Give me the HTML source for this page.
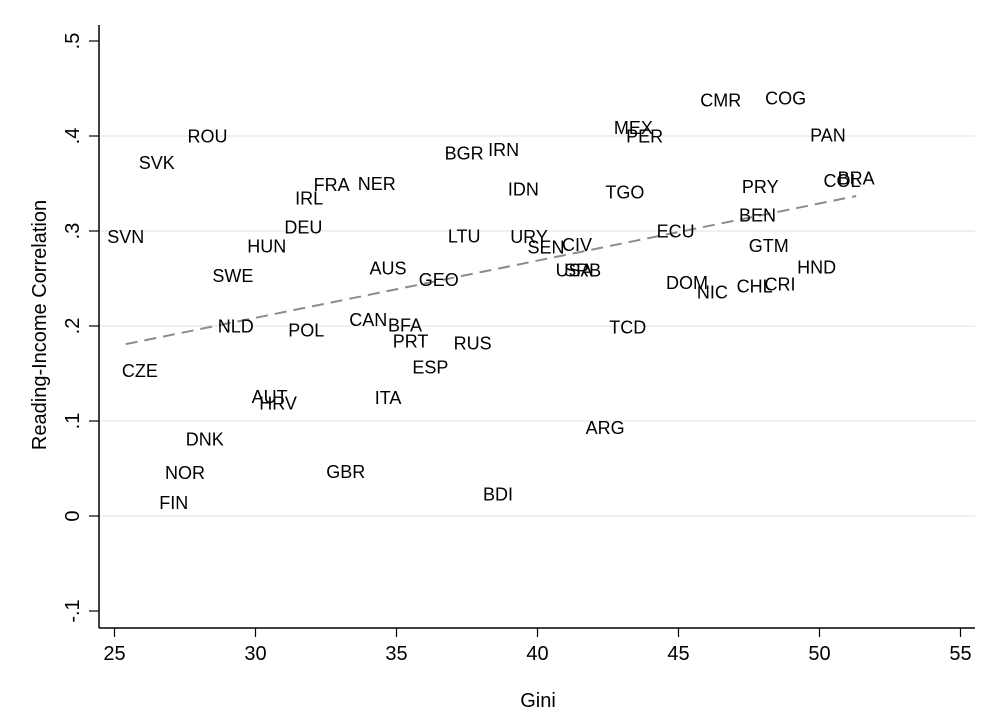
<!DOCTYPE html>
<html><head><meta charset="utf-8"><style>
html,body{margin:0;padding:0;background:#fff;}
svg{display:block;font-family:"Liberation Sans",Arial,sans-serif;}
</style></head><body>
<svg id="chart" width="1000" height="727" viewBox="0 0 1000 727" xmlns="http://www.w3.org/2000/svg">
<rect width="1000" height="727" fill="#fff"/>
<g id="grid"></g>
<g id="axes"></g>
<g id="fit"></g>
<g id="pts"></g>
<text x="538" y="707" font-size="20" text-anchor="middle" fill="#000">Gini</text>
<text transform="translate(46,325) rotate(-90)" font-size="20" text-anchor="middle" fill="#000">Reading-Income Correlation</text>
</svg>
<script>
const countries=["SVK","ROU","SVN","CZE","NOR","FIN","DNK","NLD","SWE","HUN","DEU","IRL","FRA","NER","POL","AUT","HRV","CAN","BFA","PRT","AUS","GEO","ITA","GBR","ESP","RUS","LTU","BGR","IRN","IDN","BDI","URY","SEN","CIV","USA","SRB","ARG","TCD","TGO","MEX","PER","CMR","COG","PAN","PRY","BEN","ECU","GTM","DOM","NIC","CHL","CRI","HND","COL","BRA"];
const gini=[26.5,28.3,25.4,25.9,27.5,27.1,28.2,29.3,29.2,30.4,31.7,31.9,32.7,34.3,31.8,30.5,30.8,34.0,35.3,35.5,34.7,36.5,34.7,33.2,36.2,37.7,37.4,37.4,38.8,39.5,38.6,39.7,40.3,41.4,41.3,41.6,42.4,43.2,43.1,43.4,43.8,46.5,48.8,50.3,47.9,47.8,44.9,48.2,45.3,46.2,47.7,48.6,49.9,50.8,51.3];
const corr=[0.372,0.400,0.294,0.153,0.046,0.014,0.081,0.200,0.253,0.284,0.304,0.335,0.349,0.350,0.196,0.126,0.119,0.207,0.201,0.184,0.261,0.249,0.125,0.047,0.157,0.182,0.295,0.382,0.386,0.344,0.023,0.294,0.283,0.286,0.259,0.259,0.093,0.199,0.341,0.409,0.400,0.438,0.440,0.401,0.347,0.317,0.300,0.285,0.246,0.236,0.242,0.244,0.262,0.353,0.356];
const xTicks=[25,30,35,40,45,50,55];
const yTicks=[-0.1,0,0.1,0.2,0.3,0.4,0.5];
const yTickLabels=["-.1","0",".1",".2",".3",".4",".5"];
const gridVals=[0,0.1,0.2,0.3,0.4];
const fitIntercept=0.028, fitSlope=0.00602;

const NS="http://www.w3.org/2000/svg";
const X=v=>114.5+(v-25)*28.2;
const Y=v=>516-v*950;
function mk(tag,attrs,parent,txt){const e=document.createElementNS(NS,tag);for(const k in attrs)e.setAttribute(k,attrs[k]);if(txt!==undefined)e.textContent=txt;parent.appendChild(e);return e;}
const grid=document.getElementById('grid'),axes=document.getElementById('axes'),fit=document.getElementById('fit'),pts=document.getElementById('pts');
gridVals.forEach(v=>{const l=mk('line',{x1:100,x2:975,y1:Y(v),y2:Y(v),stroke:'#e6eef0','stroke-width':1.5},grid);

});
let a=mk('line',{x1:99,x2:99,y1:25,y2:628,stroke:'#000','stroke-width':1.5},axes);


a=mk('line',{x1:99,x2:975,y1:628,y2:628,stroke:'#000','stroke-width':1.5},axes);


xTicks.forEach(v=>{const t=mk('line',{x1:X(v),x2:X(v),y1:628,y2:637,stroke:'#000','stroke-width':1.2},axes);


const l=mk('text',{x:X(v),y:660,'font-size':20,'text-anchor':'middle',fill:'#000'},axes,String(v));

});
yTicks.forEach((v,i)=>{const t=mk('line',{x1:89,x2:99,y1:Y(v),y2:Y(v),stroke:'#000','stroke-width':1.2},axes);


const l=mk('text',{transform:`translate(79,${Y(v)}) rotate(-90)`,'font-size':20,'text-anchor':'middle',fill:'#000'},axes,yTickLabels[i]);

});
const gmin=Math.min(...gini),gmax=Math.max(...gini);
const f=mk('line',{x1:X(gmin),y1:Y(fitIntercept+fitSlope*gmin),x2:X(gmax),y2:Y(fitIntercept+fitSlope*gmax),stroke:'#8c8c8c','stroke-width':2,'stroke-dasharray':'12,7'},fit);


countries.forEach((c,i)=>{const t=mk('text',{x:X(gini[i]),y:Y(corr[i])+6.5,'font-size':18,'text-anchor':'middle',fill:'#000'},pts,c);

});
</script>
</body></html>
